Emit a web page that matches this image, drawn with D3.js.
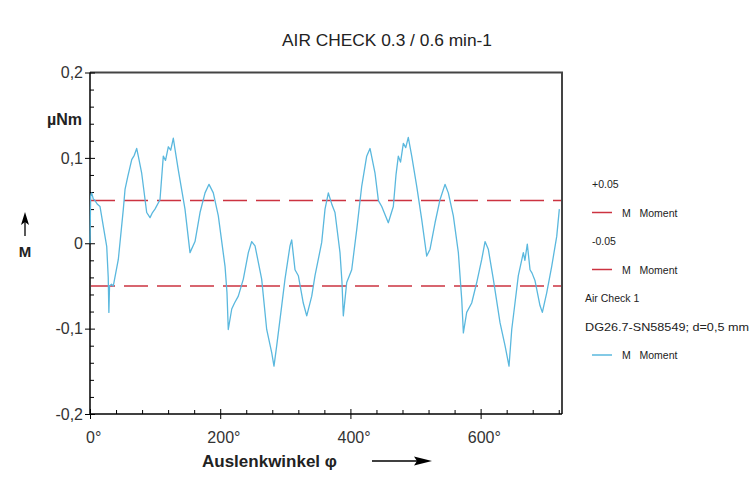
<!DOCTYPE html>
<html>
<head>
<meta charset="utf-8">
<script src="https://cdn.jsdelivr.net/npm/d3@7/dist/d3.min.js"></script>
<style>
    body { margin: 0; background: #fff; }
    svg { display: block; font-family: 'Liberation Sans', Arial, sans-serif; }
    .axis path, .axis line { stroke: #000; }
    .axis text { font-size: 16px; fill: #333; }
</style>
</head>
<body>
<script>
// angle (deg) and moment (µNm)
var angle = [0, 1, 2.6, 5, 7.7, 11, 15.4, 21.5, 25.7, 28, 29, 30, 33, 35.8, 43.5, 51.2, 53.8, 58, 64.1, 68,
    71.7, 74.2, 79.4, 87.1, 92.2, 96, 99.8, 107.5, 112.6, 116, 120.3, 124, 128, 130.6, 135.6, 145.9,
    153.6, 161.3, 169, 176.7, 182.8, 189.4, 197.1, 207.4, 210.4, 212.4, 217.7, 222, 227.8, 235.5,
    243.2, 248.4, 253.5, 263.7, 271.4, 279.1, 282.6, 286.8, 294.5, 299.5, 307.2, 309.8, 314.9, 320,
    327.6, 332.9, 340.6, 345.6, 355.9, 361, 366.1, 371.7, 376.3, 384, 387, 389.1, 394.3, 402, 409.7,
    417.4, 425, 430.1, 437.8, 443, 448.1, 458.2, 465.9, 470, 473.6, 477, 481.3, 485, 488.9, 494.2,
    501.8, 509.5, 517.2, 522.3, 530, 537.6, 545.3, 550.4, 558.1, 565.8, 571, 573.5, 578.6, 586.3,
    594, 601.7, 606.8, 611.8, 619.5, 629.8, 637.5, 643.6, 647.8, 652.8, 657.9, 665.6, 668, 671.7,
    675.9, 679, 683.6, 691.2, 694.8, 701.5, 709.2, 716.9, 720.9];
var moment = [0, 0.055, 0.059, 0.052, 0.05, 0.046, 0.043, 0.015, -0.004, -0.04, -0.081, -0.05, -0.048,
    -0.05, -0.019, 0.04, 0.063, 0.078, 0.098, 0.103, 0.111, 0.102, 0.082, 0.036, 0.03, 0.036, 0.04,
    0.051, 0.102, 0.097, 0.113, 0.109, 0.123, 0.11, 0.086, 0.04, -0.011, 0.002, 0.036, 0.059, 0.069,
    0.059, 0.032, -0.027, -0.058, -0.101, -0.077, -0.07, -0.062, -0.042, -0.011, 0.002, -0.003,
    -0.042, -0.101, -0.128, -0.144, -0.12, -0.073, -0.042, -0.003, 0.004, -0.031, -0.038, -0.07,
    -0.085, -0.062, -0.038, 0.001, 0.04, 0.059, 0.045, 0.036, -0.011, -0.045, -0.085, -0.046, -0.031,
    0.016, 0.067, 0.102, 0.111, 0.082, 0.05, 0.043, 0.024, 0.043, 0.08, 0.102, 0.095, 0.117, 0.112,
    0.124, 0.102, 0.067, 0.028, -0.015, -0.007, 0.024, 0.051, 0.069, 0.059, 0.032, -0.011, -0.066,
    -0.105, -0.081, -0.07, -0.046, -0.019, 0.002, -0.007, -0.042, -0.093, -0.12, -0.144, -0.101,
    -0.07, -0.038, -0.011, -0.02, -0.001, -0.031, -0.035, -0.044, -0.073, -0.081, -0.058, -0.027,
    0.008, 0.04];
var limits = [0.05, -0.05];
var xTicks = [0, 200, 400, 600];
var yTicks = [-0.2, -0.1, 0, 0.1, 0.2];
var legendItems = [
    {head: ['+0.05'], label: 'M   Moment', color: '#cc3340'},
    {head: ['-0.05'], label: 'M   Moment', color: '#cc3340'},
    {head: ['Air Check 1', 'DG26.7-SN58549; d=0,5 mm'], label: 'M   Moment', color: '#5ab8de'}
];

(function() {
    var w = 753,
        h = 477;
    var left = 90, right = 562, top = 72.5, bottom = 414;

    var svg = d3.select('body')
        .append('svg')
        .attr('width', w)
        .attr('height', h);

    var x = d3.scaleLinear().domain([0, 725]).range([left, right]);
    var y = d3.scaleLinear().domain([-0.2, 0.2]).range([bottom, top]);

    // title
    svg.append('text')
        .attr('x', 387)
        .attr('y', 46)
        .attr('text-anchor', 'middle')
        .attr('textLength', 210)
        .attr('lengthAdjust', 'spacingAndGlyphs')
        .style('font-size', '16px')
        .style('fill', '#222')
        .text('AIR CHECK 0.3 / 0.6 min-1');

    // frame top + right
    svg.append('path')
        .attr('d', 'M' + left + ',' + top + 'H' + right + 'V' + bottom)
        .attr('fill', 'none')
        .attr('stroke', '#444')
        .attr('stroke-width', 2);

    // minor ticks
    var xMinor = d3.range(0, 721, 40).filter(function(d) { return d % 200 !== 0; });
    var yMinor = d3.range(-10, 11).map(function(d) { return d * 0.02; })
        .filter(function(d) { return Math.abs(Math.round(d * 100)) % 10 !== 0; });

    svg.append('g')
        .attr('class', 'axis')
        .attr('transform', 'translate(0,' + bottom + ')')
        .call(d3.axisBottom(x).tickValues(xMinor).tickSize(-4).tickSizeOuter(0).tickFormat(''))
        .select('.domain').remove();
    svg.append('g')
        .attr('class', 'axis')
        .attr('transform', 'translate(' + left + ',0)')
        .call(d3.axisLeft(y).tickValues(yMinor).tickSize(-4).tickSizeOuter(0).tickFormat(''))
        .select('.domain').remove();

    // major axes
    var xAxis = svg.append('g')
        .attr('class', 'axis')
        .attr('transform', 'translate(0,' + bottom + ')')
        .call(d3.axisBottom(x).tickValues(xTicks).tickSizeInner(5).tickSizeOuter(0)
            .tickFormat(function(d) { return d + '°'; }));
    xAxis.select('.domain').attr('d', 'M' + left + ',0H' + right).attr('stroke-width', 1.5);
    xAxis.selectAll('.tick line').attr('y1', -5);
    xAxis.selectAll('.tick text').attr('y', 18).attr('dy', '0.71em').attr('dx', '0.2em');

    var yAxis = svg.append('g')
        .attr('class', 'axis')
        .attr('transform', 'translate(' + left + ',0)')
        .call(d3.axisLeft(y).tickValues(yTicks).tickSizeInner(5).tickSizeOuter(0).tickPadding(2)
            .tickFormat(function(d) { return d === 0 ? '0' : String(d).replace('.', ','); }));
    yAxis.select('.domain').attr('d', 'M0,' + top + 'V' + bottom).attr('stroke-width', 1.5);
    yAxis.selectAll('.tick line').attr('x2', 5).attr('x1', -5);

    // limit lines
    svg.selectAll('.limit')
        .data(limits)
        .enter()
        .append('line')
        .attr('class', 'limit')
        .attr('x1', left + 1)
        .attr('x2', right - 1)
        .attr('y1', y)
        .attr('y2', y)
        .attr('stroke', '#cc3340')
        .attr('stroke-width', 1.5)
        .attr('stroke-dasharray', '24,9');

    // measured curve
    var pts = angle.map(function(a, i) { return [a, moment[i]]; });
    svg.append('path')
        .datum(pts)
        .attr('fill', 'none')
        .attr('stroke', '#5ab8de')
        .attr('stroke-width', 1.3)
        .attr('stroke-linejoin', 'round')
        .attr('d', d3.line().x(function(d) { return x(d[0]); }).y(function(d) { return y(d[1]); }));

    // axis titles
    svg.append('text')
        .attr('x', 82).attr('y', 125)
        .attr('text-anchor', 'end')
        .style('font-size', '16px').style('font-weight', 'bold').style('fill', '#222')
        .text('µNm');
    svg.append('text')
        .attr('x', 25).attr('y', 257)
        .attr('text-anchor', 'middle')
        .style('font-size', '15px').style('font-weight', 'bold').style('fill', '#222')
        .text('M');
    svg.append('line')
        .attr('x1', 25).attr('x2', 25).attr('y1', 222).attr('y2', 236)
        .attr('stroke', '#000').attr('stroke-width', 1.3);
    svg.append('path')
        .attr('d', 'M25,212 L21,225 L25,222 L29,225 Z')
        .attr('fill', '#000');

    svg.append('text')
        .attr('x', 202).attr('y', 467)
        .style('font-size', '17px').style('font-weight', 'bold').style('fill', '#222')
        .text('Auslenkwinkel φ');
    svg.append('line')
        .attr('x1', 372).attr('x2', 418).attr('y1', 461).attr('y2', 461)
        .attr('stroke', '#000').attr('stroke-width', 1.3);
    svg.append('path')
        .attr('d', 'M432,461 L414,456.5 L417,461 L414,465.5 Z')
        .attr('fill', '#000');

    // legend
    var ly = 188;
    var lg = svg.append('g').style('font-size', '10.5px').style('fill', '#222');
    legendItems.forEach(function(item) {
        item.head.forEach(function(t) {
            var tx = lg.append('text')
                .attr('x', t.charAt(0) === '+' || t.charAt(0) === '-' ? 592 : 585)
                .attr('y', ly)
                .text(t);
            if (t.length > 15) tx.attr('textLength', 164).attr('lengthAdjust', 'spacingAndGlyphs');
            ly += 28.5;
        });
        lg.append('line')
            .attr('x1', 592).attr('x2', 612)
            .attr('y1', ly - 4).attr('y2', ly - 4)
            .attr('stroke', item.color)
            .attr('stroke-width', 1.5);
        lg.append('text')
            .attr('x', 622)
            .attr('y', ly)
            .attr('xml:space', 'preserve')
            .style('white-space', 'pre')
            .text(item.label);
        ly += 28.5;
    });
})();
</script>
</body>
</html>
